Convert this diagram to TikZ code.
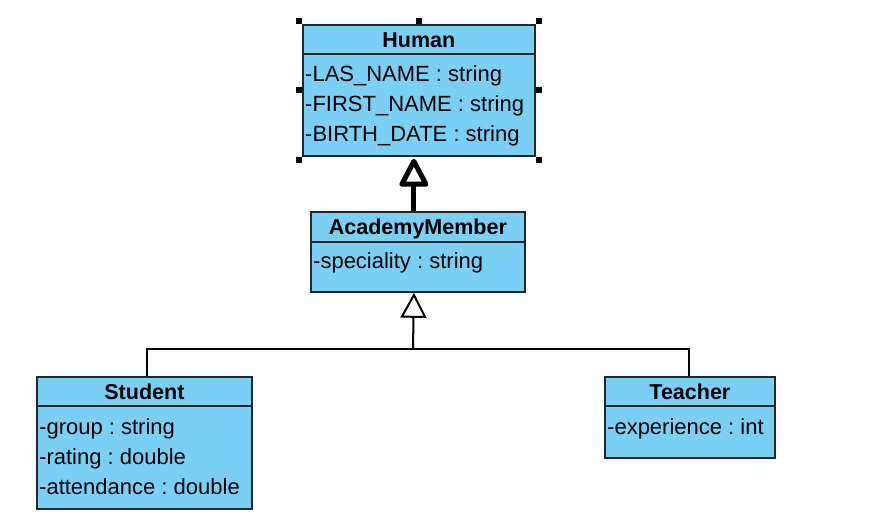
\documentclass[tikz,border=0pt]{standalone}
\usepackage{fontspec}
\setmainfont{Liberation Sans}
\usepackage{tikz}
\usetikzlibrary{arrows.meta}
\usetikzlibrary{positioning}
\definecolor{umlblue}{RGB}{122,207,245}
\frenchspacing

\begin{document}
\begin{tikzpicture}[x=1pt, y=-1pt, font=\fontsize{22}{26}\selectfont,
    classbox/.style={draw=black!85, line width=1.8pt, fill=umlblue, anchor=north west, inner sep=0pt},
    classname/.style={anchor=base, inner sep=0pt, font=\fontsize{21.5}{25}\selectfont\bfseries},
    attr/.style={anchor=base west, inner sep=0pt},
    handle/.style={fill=black, minimum size=6pt, inner sep=0pt},
    inherit/.style={draw=black, line width=2pt, -{Triangle[open, length=25pt, width=26pt]}}]
  \useasboundingbox (0,0) rectangle (876,518);

  % Human, selected
  \node[classbox, minimum width=232pt, minimum height=131pt] (human) at (302,24) {};
  \node[classname] (humanname) at ([yshift=-23.5pt]human.north) {Human};
  \draw[line width=1.8pt, black!85] ([yshift=-30pt]human.north west) -- ([yshift=-30pt]human.north east);
  \foreach \a [count=\i] in {-LAS\_NAME : string, -FIRST\_NAME : string, -BIRTH\_DATE : string}
    \node[attr] (humanattr\i) at ([xshift=3pt, yshift={-28pt-30pt*\i}]human.north west) {\a};
  \foreach \p/\dx/\dy in {north west/-3/3, north/0/3, north east/3/3, west/-3/0, east/3/0, south west/-3/-3, south east/3/-3}
    \node[handle] at ([shift={(\dx pt,\dy pt)}]human.\p) {};

  % AcademyMember
  \node[classbox, minimum width=214pt, minimum height=80pt] (academy) at (310,211) {};
  \node[classname] (academyname) at ([yshift=-23.5pt]academy.north) {AcademyMember};
  \draw[line width=1.8pt, black!85] ([yshift=-31pt]academy.north west) -- ([yshift=-31pt]academy.north east);
  \node[attr] (academyattr1) at ([xshift=3pt, yshift=-58pt]academy.north west) {-speciality : string};

  % Student
  \node[classbox, minimum width=215pt, minimum height=132pt] (student) at (36,376) {};
  \node[classname] (studentname) at ([yshift=-23.5pt]student.north) {Student};
  \draw[line width=1.8pt, black!85] ([yshift=-30pt]student.north west) -- ([yshift=-30pt]student.north east);
  \foreach \a [count=\i] in {-group : string, -rating : double, -attendance : double}
    \node[attr] (studentattr\i) at ([xshift=3pt, yshift={-29pt-30pt*\i}]student.north west) {\a};

  % Teacher
  \node[classbox, minimum width=170pt, minimum height=81pt] (teacher) at (604,376) {};
  \node[classname] (teachername) at ([yshift=-23.5pt]teacher.north) {Teacher};
  \draw[line width=1.8pt, black!85] ([yshift=-30pt]teacher.north west) -- ([yshift=-30pt]teacher.north east);
  \node[attr] (teacherattr1) at ([xshift=3pt, yshift=-59pt]teacher.north west) {-experience : int};

  % generalisations
  \coordinate (split) at (413,349);
  \draw[inherit, line width=5pt, -{Triangle[open, round, length=31pt, width=31pt]}]
    ([xshift=-4pt]academy.north) -- ([xshift=-5pt, yshift=-2pt]human.south);
  \draw[line width=2pt, line join=miter] ([xshift=3pt]student.north) |- (split) -| ([xshift=-1pt]teacher.north);
  \draw[inherit] (split) -- ([xshift=-4pt]academy.south);
\end{tikzpicture}
\end{document}
